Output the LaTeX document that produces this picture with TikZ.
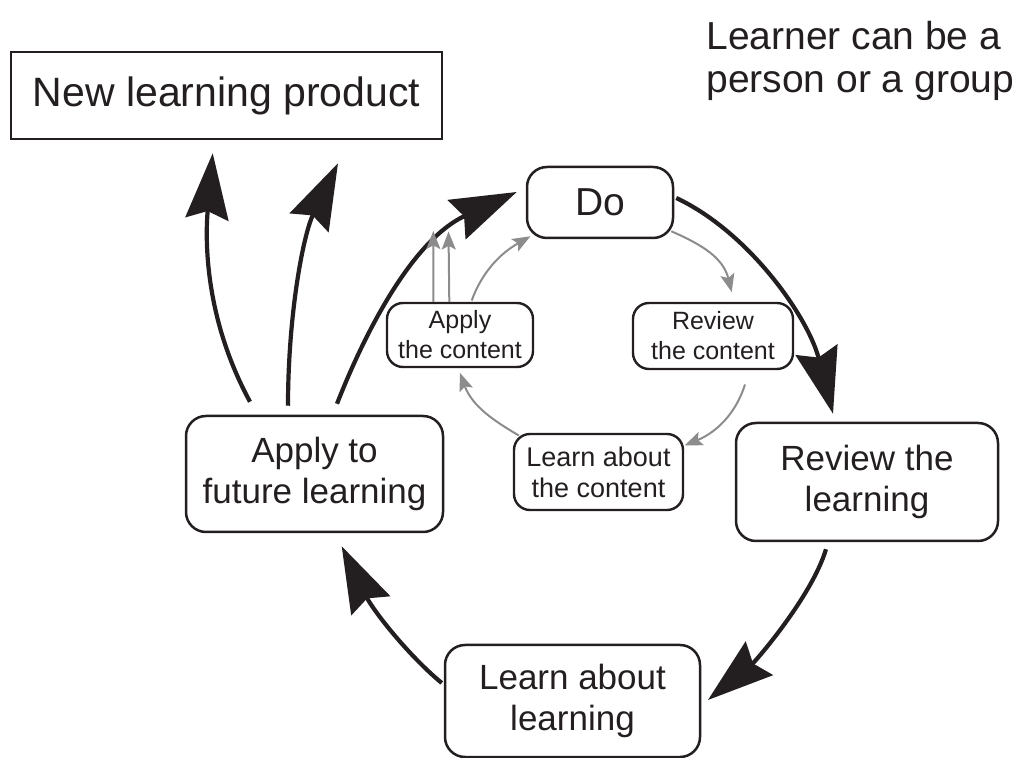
\documentclass[tikz,border=0pt]{standalone}
\usepackage{fontspec}
\setmainfont{Liberation Sans}
\usetikzlibrary{arrows.meta,calc}
\definecolor{ink}{HTML}{231F20}
\definecolor{lgray}{HTML}{8C8C8C}
\begin{document}
\begin{tikzpicture}[x=0.5pt,y=-0.5pt,
  bigbox/.style={draw=ink,line width=1.25pt,rounded corners=10pt,inner sep=0pt,align=center,text=ink,font=\fontsize{17.5}{20.5}\selectfont},
  smallbox/.style={draw=ink,line width=1.2pt,rounded corners=8pt,inner sep=0pt,align=center,text=ink,font=\fontsize{12.5}{15}\selectfont},
  bigarrow/.style={draw=ink,line width=2.1pt,-{Stealth[length=33pt,width=21.5pt,inset=4pt]}},
  grayarrow/.style={draw=lgray,line width=1pt,-{Stealth[length=9pt,width=7pt,inset=1.8pt]}},
]
\useasboundingbox (0,0) rectangle (1028,758);

% texts
\node[draw=ink,line width=1.25pt,inner sep=0pt,minimum width=215.5pt,minimum height=43.5pt,text=ink,font=\fontsize{20.5}{24}\selectfont] (nlp) at (226.5,95.5) {New learning product};
\node[anchor=north west,inner sep=0pt,align=left,text=ink,font=\fontsize{19.5}{21.5}\selectfont] (lrn) at (706,21) {Learner can be a\\person or a group};

% big boxes
\node[bigbox,minimum width=73pt,minimum height=35.5pt,font=\fontsize{19.5}{22}\selectfont] (do) at (600,202.5) {Do};
\node[bigbox,minimum width=128.5pt,minimum height=58pt] (fut) at (314.5,474) {Apply to\\future learning};
\node[bigbox,minimum width=131pt,minimum height=59pt] (rev) at (867,482) {Review the\\learning};
\node[bigbox,minimum width=127.5pt,minimum height=56pt] (lal) at (572.5,701) {Learn about\\learning};

% small boxes
\node[smallbox,minimum width=73pt,minimum height=32pt] (ac) at (460,335) {Apply\\the content};
\node[smallbox,minimum width=80pt,minimum height=33pt] (rc) at (713,336) {Review\\the content};
\node[smallbox,minimum width=84.5pt,minimum height=38pt,font=\fontsize{13.5}{15.5}\selectfont] (lc) at (598.5,472) {Learn about\\the content};

% big arrows
\draw[bigarrow] ($(fut.north)+(-64.5,-13)$) .. controls +(-45,-83) and +(-7.7,88) .. ($(nlp.south)+(-13.8,13)$);
\draw[bigarrow] ($(fut.north)+(-26.5,-9)$) .. controls +(0,-90) and +(-35,72) .. ($(nlp.south)+(111.5,23)$);
\draw[bigarrow] ($(fut.north)+(22.5,-11)$) .. controls +(33,-84) and +(-100,46) .. ($(do.west)+(-9,-10.5)$);
\draw[bigarrow] ($(do.east)+(2,-4.5)$) .. controls +(72.5,34) and +(-25,-97) .. ($(rev.north)+(-34,-8)$);
\draw[bigarrow] ($(rev.south)+(-41,7)$) .. controls +(-14.5,48) and +(46.8,-38) .. ($(lal.east)+(6.7,-1)$);
\draw[bigarrow] ($(lal.west)+(-2,-18)$) .. controls +(-35,-29) and +(30.8,63) .. ($(fut.south)+(27.2,13)$);

% gray arrows
\coordinate (ta1) at (433.3,231);
\coordinate (ta2) at (448.5,231.5);
\draw[grayarrow] ($(ac.north)+(11.7,-1.3)$) .. controls +(10.3,-28.2) and +(-30.7,17.5) .. ($(do.south west)+(4.7,-3)$);
\draw[grayarrow] ($(ac.north)+(-26.7,0)$) -- (ta1);
\draw[grayarrow] ($(ac.north)+(-10.7,0)$) -- (ta2);
\draw[grayarrow] ($(do.south east)+(-3,-8)$) .. controls +(32,14) and +(-8.4,-34) .. ($(rc.north)+(18.7,-9.7)$);
\draw[grayarrow] ($(rc.south)+(32,14.3)$) .. controls +(-9,28.7) and +(32.2,-13.3) .. ($(lc.north east)+(0.3,12.7)$);
\draw[grayarrow] ($(lc.north west)+(6,2.7)$) .. controls +(-25.5,-15) and +(12,33) .. ($(ac.south)+(0,4.7)$);
\end{tikzpicture}
\end{document}
